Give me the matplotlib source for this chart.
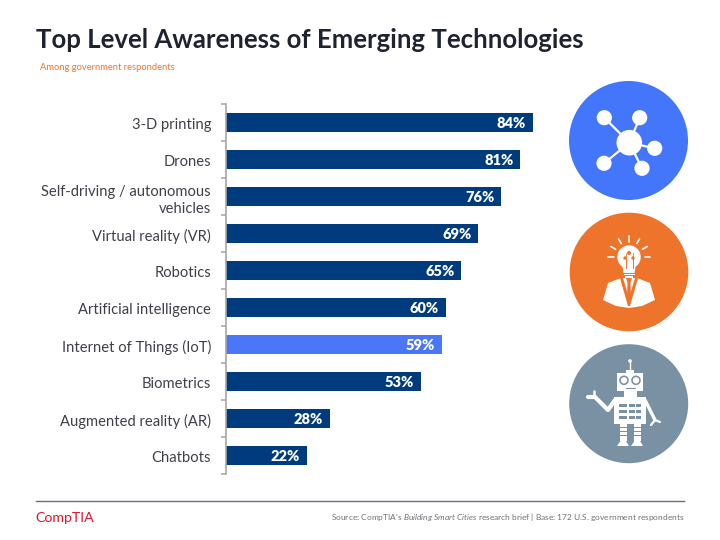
import numpy as np
import matplotlib
matplotlib.use('Agg')
import matplotlib.pyplot as plt
from matplotlib.patches import Circle, Polygon, Rectangle
from matplotlib.transforms import ScaledTranslation

categories = ['3-D printing', 'Drones', 'Self-driving / autonomous\nvehicles', 'Virtual reality (VR)', 'Robotics',
              'Artificial intelligence', 'Internet of Things (IoT)', 'Biometrics', 'Augmented reality (AR)', 'Chatbots']
values = [84, 80.5, 75.3, 69, 64.4, 60.2, 59, 53.3, 28.5, 22.2]
labels = ['84%', '81%', '76%', '69%', '65%', '60%', '59%', '53%', '28%', '22%']
highlight = 'Internet of Things (IoT)'

NAVY = '#003c7d'
LIGHT_BLUE = '#4a76f7'
BLUE = '#4376fb'
ORANGE = '#ee742b'
SLATE = '#7a91a3'
TEXT = '#3f3f48'

plt.rcParams['font.family'] = ['Lato', 'DejaVu Sans']
plt.rcParams['mathtext.fontset'] = 'custom'
plt.rcParams['mathtext.rm'] = 'Lato'
plt.rcParams['mathtext.it'] = 'Lato:italic'

fig = plt.figure(figsize=(7.2, 5.4), dpi=100)

# overlay in pixel coords for the slide furniture
bg = fig.add_axes([0, 0, 1, 1])
bg.set_xlim(0, 720)
bg.set_ylim(540, 0)
bg.axis('off')

# bar chart, placed so that 1% is about 3.655 px
ax = fig.add_axes([226 / 720, 1 - 474 / 540, 365.5 / 720, 370 / 540])
ax.patch.set_alpha(0)
pos = np.arange(len(categories))
colors = [LIGHT_BLUE if c == highlight else NAVY for c in categories]
ax.barh(pos, values, height=0.49, color=colors)
ax.set_xlim(0, 100)
ax.set_ylim(len(categories) - 0.5, -0.5)
for p, v, l in zip(pos, values, labels):
    ax.text(v - 1.9, p + 0.03, l, color='white', fontsize=10.5, fontweight='heavy', ha='right', va='center')
for s in ['top', 'right', 'bottom']:
    ax.spines[s].set_visible(False)
ax.spines['left'].set_color('#a6a6a6')
ax.spines['left'].set_linewidth(1.2)
ax.set_xticks([])
ax.set_yticks(np.arange(len(categories) + 1) - 0.5)
ax.set_yticklabels([])
ax.tick_params(axis='y', which='major', length=3.6, width=1.1, color='#a6a6a6')
ax.set_yticks(pos, minor=True)
ax.set_yticklabels(categories, minor=True, fontsize=10.6, color=TEXT, ha='right', linespacing=1.25)
ax.tick_params(axis='y', which='minor', length=0, pad=10.8)
shift = ScaledTranslation(0, -1.2 / 100, fig.dpi_scale_trans)
for lbl in ax.get_yticklabels(minor=True):
    lbl.set_transform(lbl.get_transform() + shift)

# title and footer
bg.text(36, 40.5, 'Top Level Awareness of Emerging Technologies', fontsize=18.58, fontweight='bold',
        color='#1f2230', va='center')
bg.text(40, 67, 'Among government respondents', fontsize=6.75, color=ORANGE, va='center')
bg.plot([36, 684], [500.5, 500.5], color='#6b7080', lw=1)
bg.text(35.5, 518, 'CompTIA', fontsize=10.2, color='#e0142c', va='center')
bg.text(684, 517, r"Source: CompTIA's $\mathit{Building\ Smart\ Cities}$ research brief | Base: 172 U.S. government respondents",
        fontsize=6.06, color='#6f7278', ha='right', va='center')


def line(pts, color='white', lw=2):
    xs, ys = zip(*pts)
    bg.plot(xs, ys, color=color, lw=lw, solid_capstyle='round')


def disc(x, y, r, color='white', **kw):
    bg.add_patch(Circle((x, y), r, facecolor=color, edgecolor='none', **kw))


def box(x0, y0, x1, y1, color='white'):
    bg.add_patch(Rectangle((x0, y0), x1 - x0, y1 - y0, facecolor=color, edgecolor='none'))


# network icon
disc(628.5, 140.5, 59.5, BLUE)
hub = (629.3, 142.7)
for sx, sy in [(604.3, 117.7), (639.7, 117.7), (654.7, 148.3), (604, 163.3), (642, 168.3)]:
    line([hub, (sx, sy)], lw=1.6)
    disc(sx, sy, 7.6)
disc(hub[0], hub[1], 12.8)

# idea icon
disc(629, 272, 59.3, ORANGE)
disc(629, 257, 11.7)
bg.add_patch(Polygon([(622, 264), (636, 264), (634.5, 273), (623.5, 273)], facecolor='white', edgecolor='none'))
for a in [0, 30, 60, 90, 120, 150, 180]:
    t = np.radians(a)
    line([(629 + 15.5 * np.cos(t), 257 - 15.5 * np.sin(t)), (629 + 21 * np.cos(t), 257 - 21 * np.sin(t))], lw=1.2)
for yy in [259, 253]:
    line([(625.5, 268), (625.5, yy)], ORANGE, 0.6)
    line([(632.5, 268), (632.5, yy)], ORANGE, 0.6)
disc(629, 253, 2, ORANGE)
disc(625, 258, 1.7, ORANGE)
disc(633, 258, 1.7, ORANGE)
box(623.5, 273.5, 634.5, 275)
box(625, 276, 633, 277.5)
bg.add_patch(Polygon([(603, 300), (608, 283), (621, 278), (637, 278), (650, 283), (655, 300), (642, 306), (629, 308), (616, 306)],
                     facecolor='white', edgecolor='none'))
bg.add_patch(Polygon([(620, 278), (623, 278), (629, 298), (635, 278), (638, 278), (630, 306), (628, 306)],
                     facecolor=ORANGE, edgecolor='none'))
bg.add_patch(Polygon([(626, 278), (632, 278), (630.5, 283), (631, 296), (629, 299), (627, 296), (627.5, 283)],
                     facecolor=ORANGE, edgecolor='none'))

# robot icon
disc(628.7, 403.7, 59.5, SLATE)
line([(630, 361), (630, 370)], lw=1)
disc(630, 361, 1.8)
box(626, 369.5, 634, 374)
box(617.3, 373.3, 642.7, 391)
for ex in [624, 636]:
    disc(ex, 380.3, 4.8, SLATE)
    disc(ex, 380.3, 3.2)
line([(625.5, 387.5), (634.5, 387.5)], SLATE, 0.8)
box(623.5, 391, 636.5, 397)
box(614, 396.5, 646, 423.5)
for x0, x1 in [(619, 627), (628.5, 634.5), (635.5, 641)]:
    for y0 in [403.5, 409.5, 415.5]:
        box(x0, y0, x1, y0 + 3, SLATE)
line([(615, 400), (608, 410), (595, 397), (588, 397)], lw=3)
line([(594, 391), (594, 397)], lw=1.8)
line([(645, 400), (655, 420)], lw=2.4)
line([(655, 420), (660, 422)], lw=1.6)
line([(655, 420), (651, 425)], lw=1.6)
for x0 in [620, 634]:
    box(x0, 423.5, x0 + 6.5, 441)
    for y0 in [427, 431, 435]:
        box(x0, y0, x0 + 6.5, y0 + 1.2, SLATE)
    bg.add_patch(Polygon([(x0 + 0.5, 441), (x0 + 6, 441), (x0 + 9, 446), (x0 - 3, 446)], facecolor='white', edgecolor='none'))

fig.savefig('out.png', dpi=100)
